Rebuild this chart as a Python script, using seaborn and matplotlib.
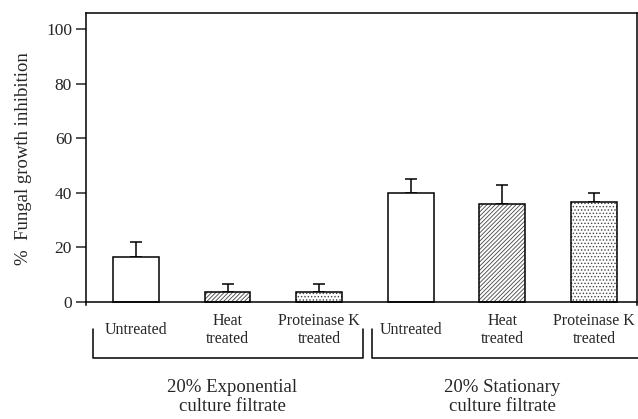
import matplotlib
matplotlib.use('Agg')
import matplotlib.pyplot as plt
import numpy as np
import pandas as pd
import seaborn as sns

# Values
groups = ['20% Exponential\nculture filtrate', '20% Stationary\nculture filtrate']
treatments = ['Untreated', 'Heat\ntreated', 'Proteinase K\ntreated']
inhibition = [16.5, 3.5, 3.5, 40.0, 36.0, 36.5]
error = [5.5, 3.0, 3.0, 5.0, 7.0, 3.5]
hatches = ['', '////////', '.....', '', '////////', '.....']

df = pd.DataFrame({
    'bar': list(range(6)),
    'treatment': treatments * 2,
    'inhibition': inhibition,
})

sns.set_style('white')
plt.rcParams['font.family'] = ['Liberation Serif', 'DejaVu Serif']
plt.rcParams['hatch.linewidth'] = 0.6

fig = plt.figure(figsize=(6.38, 4.19), dpi=100)
ax = fig.add_axes([0.1348, 0.2728, 0.8636, 0.6962])

sns.barplot(data=df, x='bar', y='inhibition', width=0.5, color='white',
            edgecolor='#444444', linewidth=0, native_scale=True, ax=ax, zorder=2)
for patch, h in zip(ax.patches, hatches):
    patch.set_hatch(h)
    patch.set_facecolor('white')
# black outline on top of the grey hatching
ax.bar(df['bar'], df['inhibition'], width=0.5, fill=False,
       edgecolor='black', linewidth=1.1, zorder=3)
ax.errorbar(df['bar'], df['inhibition'],
            yerr=[np.zeros(len(error)), error], fmt='none',
            ecolor='black', elinewidth=1.1, capsize=4.3, capthick=1.1, zorder=1)

ax.set_xlim(-0.546, 5.47)
ax.set_ylim(-1, 106)
ax.set_yticks([0, 20, 40, 60, 80, 100])
ax.set_xticks([])
ax.tick_params(axis='y', direction='out', length=7, width=1.1, pad=3, labelsize=12.5, left=True)
for side in ['left', 'top', 'right', 'bottom']:
    ax.spines[side].set_linewidth(1.1)
    ax.spines[side].set_color('black')
ax.spines['bottom'].set_position(('data', 0))
ax.set_xlabel('')
ax.set_ylabel('%  Fungal growth inhibition', fontsize=13.5)
ax.yaxis.set_label_coords(-0.098, 0.5)

# category labels under each bar
for i, name in enumerate(df['treatment']):
    ax.text(i, -10.3, name, ha='center', va='center', fontsize=11.5,
            linespacing=1.15, clip_on=False)

# brackets and group labels
brackets = [(-0.47, 2.48), (2.58, 5.6)]
for (x0, x1), (gx, gname) in zip(brackets, zip([1.05, 4.0], groups)):
    ax.plot([x0, x0, x1, x1], [-10, -20.6, -20.6, -10], color='black',
            linewidth=1.1, clip_on=False)
    ax.text(gx, -35, gname, ha='center', va='center', fontsize=13.5,
            linespacing=1.15, clip_on=False)

fig.savefig('out.png', dpi=100)
